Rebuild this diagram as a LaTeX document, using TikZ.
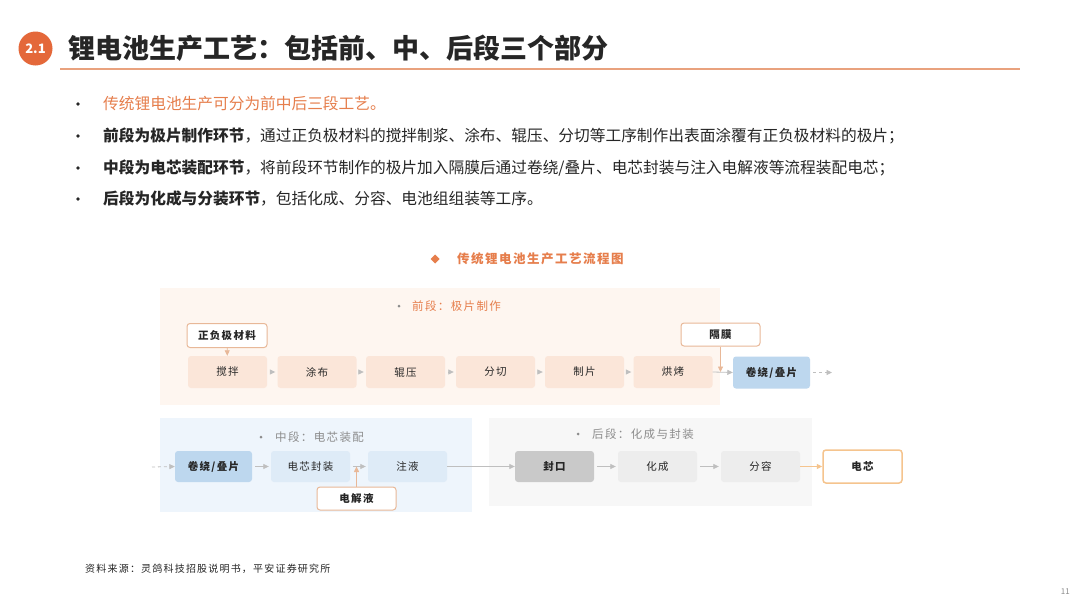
\documentclass[tikz,border=0pt]{standalone}
\usepackage{fontspec}
\setmainfont{Noto Sans CJK SC}
\newfontfamily\spc[LetterSpace=12]{Noto Sans CJK SC}
\usetikzlibrary{arrows.meta}
\definecolor{badgeor}{HTML}{E4683A}
\definecolor{lineor}{HTML}{E9A27E}
\definecolor{textor}{HTML}{E67E4C}
\definecolor{frontbg}{HTML}{FEF6F0}
\definecolor{frontbox}{HTML}{FBE6D9}
\definecolor{inborder}{HTML}{E8B898}
\definecolor{bluestrong}{HTML}{BDD7EE}
\definecolor{bluelight}{HTML}{DEEBF7}
\definecolor{midbg}{HTML}{EEF5FC}
\definecolor{backbg}{HTML}{F7F7F7}
\definecolor{graystrong}{HTML}{C9C9C9}
\definecolor{graylight}{HTML}{EDEDED}
\definecolor{cellborder}{HTML}{F5C48E}
\definecolor{arrowgray}{HTML}{BFBFBF}
\definecolor{labgray}{HTML}{8C8C8C}
\definecolor{txt}{HTML}{262626}
\begin{document}
\begin{tikzpicture}[x=1pt,y=-1pt,
  box/.style={rounded corners=3pt, minimum width=79pt, minimum height=32pt, inner sep=0pt, text=txt, font=\fontsize{10.5}{12}\spc},
  fbox/.style={box, fill=frontbox},
  bbox/.style={box, fill=bluestrong, font=\fontsize{10.5}{12}\spc\bfseries},
  lbox/.style={box, fill=bluelight},
  gbox/.style={box, fill=graystrong, font=\fontsize{10.5}{12}\spc\bfseries},
  hbox/.style={box, fill=graylight},
  inbox/.style={box, fill=white, draw=inborder, line width=1pt, minimum height=24pt, font=\fontsize{10.5}{12}\spc\bfseries},
  flow/.style={draw=arrowgray, line width=0.8pt, -{Triangle[length=5.5pt,width=5pt]}},
  bulletline/.style={anchor=west, inner sep=0pt, font=\fontsize{15.7}{18}\selectfont, text=txt},
  seclabel/.style={anchor=west, inner sep=0pt, font=\fontsize{11.5}{13}\spc}
]
\useasboundingbox (0,0) rectangle (1080,608);
\fill[white] (0,0) rectangle (1080,608);

% header
\node[circle, fill=badgeor, minimum size=34pt, inner sep=0pt, text=white, font=\fontsize{13}{13}\selectfont\bfseries] (badge) at (35.5,48.5) {2.1};
\node[anchor=west, inner sep=0pt, text=txt, font=\fontsize{27}{28}\selectfont\bfseries] (title) at (68,48) {锂电池生产工艺：包括前、中、后段三个部分};
\draw[lineor, line width=1.6pt] (60,69) -- (1020,69);

% bullets
\foreach \yy in {104,136,168,199} \fill[txt] (78,\yy) circle (1.8pt);
\node[bulletline, text=textor] (b1) at (103,104) {传统锂电池生产可分为前中后三段工艺。};
\node[bulletline] (b2) at (103,136) {{\bfseries 前段为极片制作环节}，通过正负极材料的搅拌制浆、涂布、辊压、分切等工序制作出表面涂覆有正负极材料的极片；};
\node[bulletline] (b3) at (103,168) {{\bfseries 中段为电芯装配环节}，将前段环节制作的极片加入隔膜后通过卷绕/叠片、电芯封装与注入电解液等流程装配电芯；};
\node[bulletline] (b4) at (103,199) {{\bfseries 后段为化成与分装环节}，包括化成、分容、电池组组装等工序。};

% chart title
\fill[textor] (435,254.5) -- (439.5,259) -- (435,263.5) -- (430.5,259) -- cycle;
\node[anchor=west, inner sep=0pt, text=textor, font=\fontsize{12.5}{14}\spc\bfseries] (ctitle) at (457,259) {传统锂电池生产工艺流程图};

% section backgrounds
\fill[frontbg] (160,288) rectangle (720,405);
\fill[midbg] (160,418) rectangle (472,512);
\fill[backbg] (489,418) rectangle (812,506);

% section labels
\fill[labgray] (399,306) circle (1.5pt);
\node[seclabel, text=textor] (lf) at (412,306) {前段：极片制作};
\fill[labgray] (261,437) circle (1.5pt);
\node[seclabel, text=labgray] (lm) at (275,437) {中段：电芯装配};
\fill[labgray] (578,434) circle (1.5pt);
\node[seclabel, text=labgray] (lb) at (592,434) {后段：化成与封装};

% front row
\node[fbox] (s1) at (227.5,372) {搅拌};
\node[fbox] (s2) at (317,372) {涂布};
\node[fbox] (s3) at (405.5,372) {辊压};
\node[fbox] (s4) at (495.5,372) {分切};
\node[fbox] (s5) at (584.5,372) {制片};
\node[fbox] (s6) at (673,372) {烘烤};
\node[bbox, minimum width=77pt] (s7) at (771.5,372.5) {卷绕/叠片};
\node[inbox, minimum width=80pt] (in1) at (227,335.5) {正负极材料};
\node[inbox, minimum height=23pt] (in2) at (720.5,334.5) {隔膜};
\coordinate (fend) at (832,372.5);

\draw[flow, draw=inborder] (in1) -- (s1);
\foreach \a/\b in {s1/s2,s2/s3,s3/s4,s4/s5,s5/s6}
  \draw[flow, shorten <=3pt, shorten >=2pt] (\a) -- (\b);
\draw[flow] (s6.east) -- (s7.west);
\draw[flow, draw=inborder] (in2.south) -- (in2.south |- s6.east);
\draw[flow, dashed, shorten <=3pt] (s7.east) -- (fend);

% middle row
\coordinate (mstart) at (152,467);
\node[bbox, minimum width=77pt, minimum height=31pt] (m1) at (213.5,466.5) {卷绕/叠片};
\node[lbox, minimum height=31pt] (m2) at (310.5,466.5) {电芯封装};
\node[lbox, minimum height=31pt] (m3) at (407.5,466.5) {注液};
\node[inbox, minimum height=23pt] (in3) at (356.5,498.5) {电解液};
\draw[flow, dashed] (mstart) -- (m1.west);
\draw[flow, shorten <=3pt, shorten >=2pt] (m1) -- (m2);
\draw[flow, shorten <=3pt, shorten >=2pt] (m2) -- (m3);
\draw[flow, draw=inborder] (in3.north) -- (in3.north |- m2.east);

% back row
\node[gbox, minimum height=31pt] (k1) at (554.5,466.5) {封口};
\node[hbox, minimum height=31pt] (k2) at (657.5,466.5) {化成};
\node[hbox, minimum height=31pt] (k3) at (760.5,466.5) {分容};
\node[box, fill=white, draw=cellborder, line width=1.5pt, minimum height=33pt, font=\fontsize{10.5}{12}\spc\bfseries] (cell) at (862.5,466.5) {电芯};
\draw[flow] (m3) -- (k1);
\draw[flow, shorten <=3pt, shorten >=2pt] (k1) -- (k2);
\draw[flow, shorten <=3pt, shorten >=2pt] (k2) -- (k3);
\draw[flow, draw=cellborder, line width=1.2pt] (k3) -- (cell);

% footer
\node[anchor=west, inner sep=0pt, text=txt, font=\fontsize{10}{12}\spc] (src) at (85,569) {资料来源：灵鸽科技招股说明书，平安证券研究所};
\node[anchor=east, inner sep=0pt, text=labgray, font=\fontsize{8}{9}\selectfont] (pg) at (1070,592) {11};
\end{tikzpicture}
\end{document}
